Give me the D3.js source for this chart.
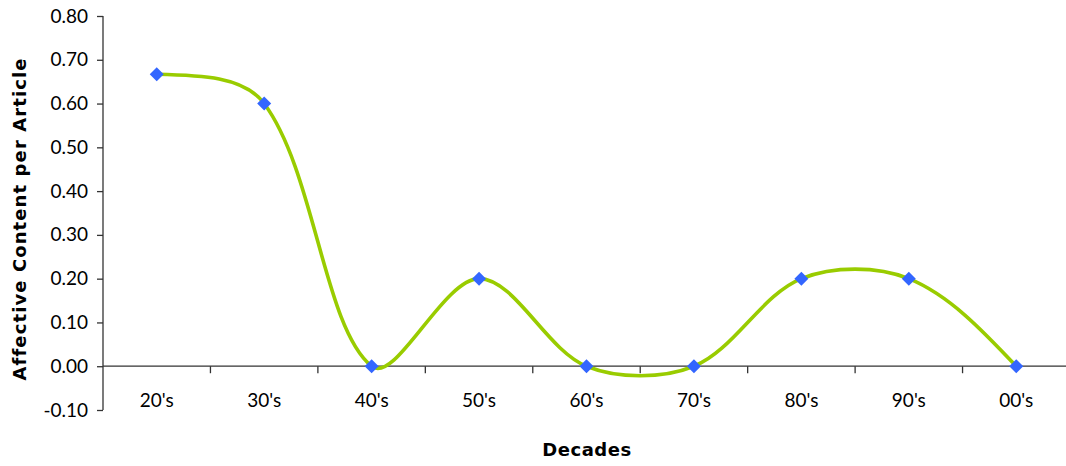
<!DOCTYPE html>
<html><head><meta charset="utf-8">
<script src="https://cdn.jsdelivr.net/npm/d3@7"></script>
<style>body{margin:0;background:#fff;} svg{display:block;font-family:Lato, "Open Sans", sans-serif;}</style>
</head><body>
<svg id="c" width="1066" height="466"></svg>
<script>
const categories = ["20's","30's","40's","50's","60's","70's","80's","90's","00's"];
const values = [0.667, 0.60, 0.00, 0.20, 0.00, 0.00, 0.20, 0.20, 0.00];
const yTicks = [-0.1,0,0.1,0.2,0.3,0.4,0.5,0.6,0.7,0.8];
const yTickLabels = ["-0.10","0.00","0.10","0.20","0.30","0.40","0.50","0.60","0.70","0.80"];

const svg = d3.select("#c");
const m = {l:103, r:1070, t:16, b:410};
const x = d3.scaleBand().domain(categories).range([m.l, m.r]).padding(0);
const y = d3.scaleLinear().domain([-0.1, 0.8]).range([m.b, m.t]);
const axisColor = "#333";
const cx = c => x(c) + x.bandwidth()/2;

// Y axis
const ya = svg.append("g").attr("transform", `translate(${m.l},0)`)
  .call(d3.axisLeft(y).tickValues(yTicks).tickSize(6).tickPadding(9)
    .tickFormat((d,i)=>yTickLabels[i]));
ya.select(".domain").attr("stroke", axisColor).attr("stroke-width", 1.3).attr("d", `M0,${m.t}V${m.b}`);
ya.selectAll(".tick line").attr("stroke", axisColor).attr("stroke-width", 1.3);
ya.selectAll(".tick text").attr("font-size", 19).attr("fill", "#000").attr("font-family", "Lato");

// X axis at y=0
const xa = svg.append("g").attr("transform", `translate(0,${y(0)})`)
  .call(d3.axisBottom(x).tickSize(0).tickPadding(27));
xa.select(".domain").attr("stroke", axisColor).attr("stroke-width", 1.3).attr("d", `M${m.l},0H${m.r}`);
xa.selectAll(".tick text").attr("font-size", 19).attr("fill", "#000").attr("font-family", "Lato");
xa.selectAll(".sep").data(categories.slice(1)).enter().append("line")
  .attr("class","sep")
  .attr("x1", d=>x(d)).attr("x2", d=>x(d)).attr("y1", 0).attr("y2", 7)
  .attr("stroke", axisColor).attr("stroke-width", 1.3);

// Excel-like smoothed line: Bezier with distance-weighted tangents
const pts = values.map((v,i)=>[cx(categories[i]), y(v)]);
const dist = (a,b)=>Math.hypot(b[0]-a[0], b[1]-a[1]);
function ctrl(i, side) { // side: +1 outgoing, -1 incoming
  const p = pts[i], a = pts[i-1], b = pts[i+1];
  const dA = dist(a,p), dB = dist(p,b);
  const dSeg = side > 0 ? dB : dA;
  const f = (1/3) * dSeg / (dA + dB);
  return [p[0] + side*(b[0]-a[0])*f, p[1] + side*(b[1]-a[1])*f];
}
const path = d3.path();
path.moveTo(pts[0][0], pts[0][1]);
const n = pts.length;
for (let i = 0; i < n-1; i++) {
  let c1, c2;
  if (i > 0) c1 = ctrl(i, 1);
  if (i+1 < n-1) c2 = ctrl(i+1, -1);
  if (!c1) c1 = [pts[i][0] + (c2[0]-pts[i][0])/2, pts[i][1] + (c2[1]-pts[i][1])/2];
  if (!c2) c2 = [pts[i+1][0] + (c1[0]-pts[i+1][0])/2, pts[i+1][1] + (c1[1]-pts[i+1][1])/2];
  path.bezierCurveTo(c1[0], c1[1], c2[0], c2[1], pts[i+1][0], pts[i+1][1]);
}
svg.append("path").attr("d", path.toString())
  .attr("fill","none").attr("stroke","#99CC00").attr("stroke-width",3.6)
  .attr("stroke-linejoin","round");

// markers
svg.selectAll(".mk").data(values).enter().append("path")
  .attr("class","mk")
  .attr("transform",(d,i)=>`translate(${cx(categories[i])},${y(d)}) rotate(45)`)
  .attr("d", d3.symbol().type(d3.symbolSquare).size(98))
  .attr("fill","#3366FF");

// titles
svg.append("text").attr("transform", `translate(26,219) rotate(-90)`)
  .attr("text-anchor","middle").attr("font-size",18).attr("font-weight","bold")
  .attr("font-family","'DejaVu Sans'").attr("letter-spacing", 1.1)
  .text("Affective Content per Article");
svg.append("text").attr("x", 587).attr("y", 456)
  .attr("text-anchor","middle").attr("font-size",18).attr("font-weight","bold")
  .attr("font-family","'DejaVu Sans'").attr("letter-spacing", 0.5)
  .text("Decades");
</script>
</body></html>
